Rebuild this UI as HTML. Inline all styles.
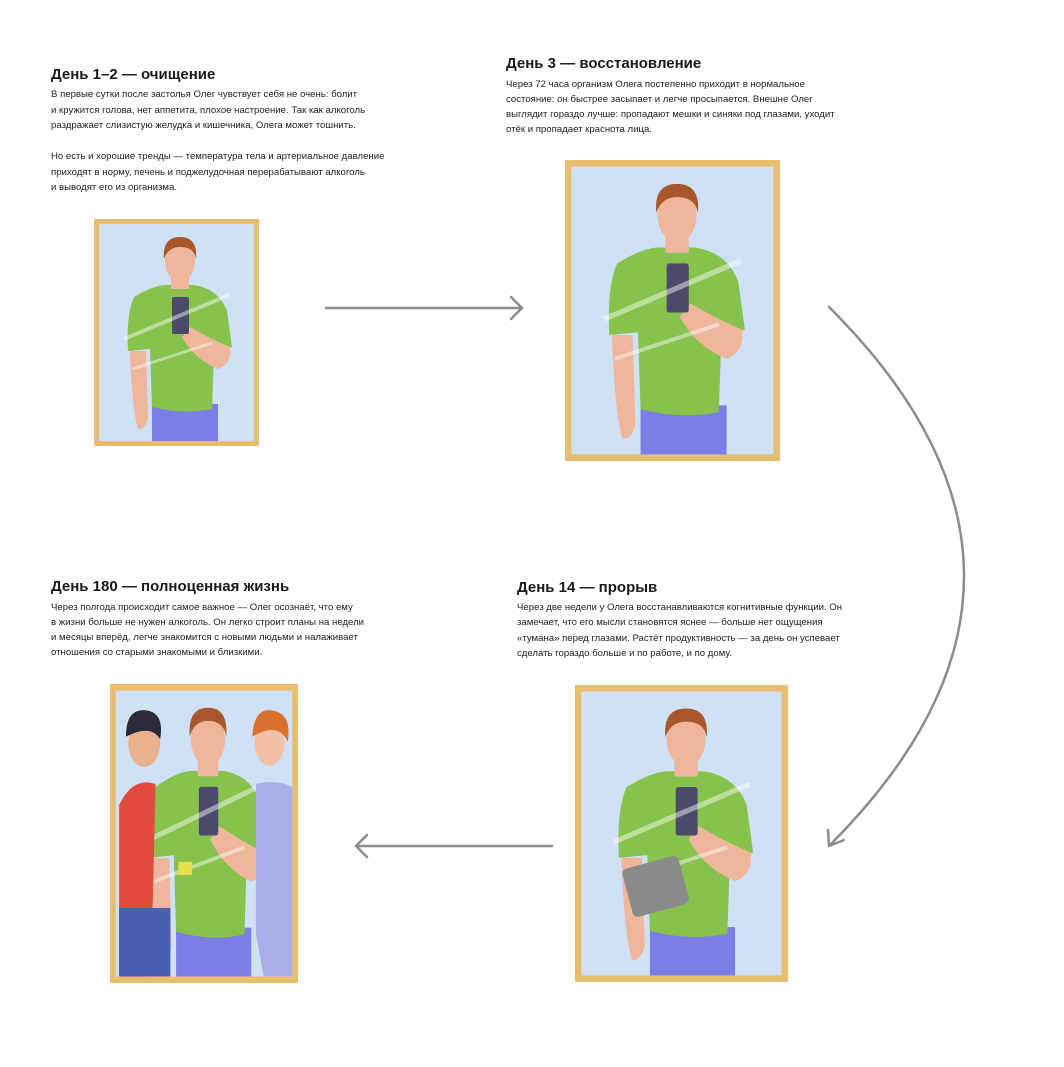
<!DOCTYPE html>
<html><head><meta charset="utf-8"><style>
body{margin:0;width:1064px;height:1067px;background:#fff;position:relative;overflow:hidden;font-family:"Liberation Sans",sans-serif;color:#1a1a1a}
.h{position:absolute;font-size:15px;font-weight:bold;white-space:nowrap}
.p{position:absolute;font-size:9.6px;line-height:15.5px;white-space:nowrap;color:#222}
svg.f{position:absolute}
</style></head><body>
<svg width="0" height="0" style="position:absolute"><defs>
<g id="man">
<rect x="0" y="0" width="165" height="227" fill="#e8bd6e"/>
<rect x="5" y="5" width="155" height="217" fill="#cfe2f5"/>
<rect x="58" y="185" width="66" height="37" fill="#7a7ee6"/>
<path d="M40 78 Q60 66 72 66 L100 66 Q125 70 133 92 L138 128 L120 134 L118 190 Q90 196 58 188 L56 130 L34 132 Q32 96 40 78Z" fill="#86c24c"/>
<path d="M36 132 L52 132 L54 200 Q50 212 44 210 Q38 190 36 132Z" fill="#f0b69c"/>
<path d="M118 120 L136 128 Q138 145 124 150 Q100 140 88 118 L96 108 Z" fill="#f0b69c"/>
<rect x="78" y="78" width="17" height="37" rx="2" fill="#4d4b6b"/>
<rect x="77" y="56" width="18" height="14" fill="#f0b69c"/>
<ellipse cx="86" cy="42" rx="15" ry="20" fill="#f0b69c"/>
<path d="M70 40 Q68 18 86 18 Q104 18 102 40 Q100 28 86 28 Q74 28 70 40Z" fill="#a8582a"/>
<path d="M30 120 L135 76" stroke="#fff" stroke-opacity=".45" stroke-width="4"/>
<path d="M38 150 L118 124" stroke="#fff" stroke-opacity=".45" stroke-width="3"/>
</g></defs></svg>

<div class="h" style="left:51px;top:66px">День 1–2 — очищение</div>
<div class="p" style="left:51px;top:87px">В первые сутки после застолья Олег чувствует себя не очень: болит<br>и кружится голова, нет аппетита, плохое настроение. Так как алкоголь<br>раздражает слизистую желудка и кишечника, Олега может тошнить.<br><br>Но есть и хорошие тренды — температура тела и артериальное давление<br>приходят в норму, печень и поджелудочная перерабатывают алкоголь<br>и выводят его из организма.</div>

<div class="h" style="left:506px;top:55px;font-weight:600">День 3 — восстановление</div>
<div class="p" style="left:506px;top:77px;line-height:15px">Через 72 часа организм Олега постепенно приходит в нормальное<br>состояние: он быстрее засыпает и легче просыпается. Внешне Олег<br>выглядит гораздо лучше: пропадают мешки и синяки под глазами, уходит<br>отёк и пропадает краснота лица.</div>

<div class="h" style="left:51px;top:578px">День 180 — полноценная жизнь</div>
<div class="p" style="left:51px;top:600px;line-height:15px">Через полгода происходит самое важное — Олег осознаёт, что ему<br>в жизни больше не нужен алкоголь. Он легко строит планы на недели<br>и месяцы вперёд, легче знакомится с новыми людьми и налаживает<br>отношения со старыми знакомыми и близкими.</div>

<div class="h" style="left:517px;top:579px">День 14 — прорыв</div>
<div class="p" style="left:517px;top:600px;line-height:15.3px">Через две недели у Олега восстанавливаются когнитивные функции. Он<br>замечает, что его мысли становятся яснее — больше нет ощущения<br>«тумана» перед глазами. Растёт продуктивность — за день он успевает<br>сделать гораздо больше и по работе, и по дому.</div>

<svg class="f" style="left:94px;top:219px" width="165" height="227" viewBox="0 0 165 227" preserveAspectRatio="none"><use href="#man"/></svg>
<svg class="f" style="left:565px;top:160px" width="215" height="301" viewBox="0 0 165 227" preserveAspectRatio="none"><use href="#man"/></svg>
<svg class="f" style="left:575px;top:685px" width="213" height="297" viewBox="0 0 165 227" preserveAspectRatio="none"><use href="#man"/><rect x="40" y="135" width="45" height="38" rx="4" transform="rotate(-15 62 154)" fill="#8a8a8a"/></svg>
<svg class="f" style="left:110px;top:684px" width="188" height="299" viewBox="0 0 165 227" preserveAspectRatio="none">
<use href="#man"/>
<path d="M8 92 Q20 70 40 76 L36 222 L8 222Z" fill="#e24a3b"/>
<rect x="8" y="170" width="45" height="52" fill="#4a5fb0"/>
<ellipse cx="30" cy="45" rx="14" ry="18" fill="#eab08e"/>
<path d="M14 40 Q14 18 32 20 Q48 22 44 42 Q36 30 14 40Z" fill="#2a2a3a"/>
<path d="M128 76 Q145 72 160 78 L160 222 L135 222 L128 190Z" fill="#a9aee8"/>
<ellipse cx="140" cy="45" rx="13" ry="17" fill="#f2c0a4"/>
<path d="M125 40 Q126 18 142 20 Q160 22 156 44 Q148 28 125 40Z" fill="#d9702e"/>
<rect x="60" y="135" width="12" height="10" fill="#e6e04a"/>
</svg>

<svg class="f" style="left:0;top:0" width="1064" height="1067">
<g fill="none" stroke="#8c8c8c" stroke-width="2.5" stroke-linecap="round" stroke-linejoin="round">
<path d="M326 308 L522 308 M511 297 L522 308 L511 319"/>
<path d="M552 846 L356 846 M367 835 L356 846 L367 857"/>
<path d="M829 307 Q1099 576 829 846 M828 830 L829 846 L844 840"/>
</g></svg>
</body></html>
